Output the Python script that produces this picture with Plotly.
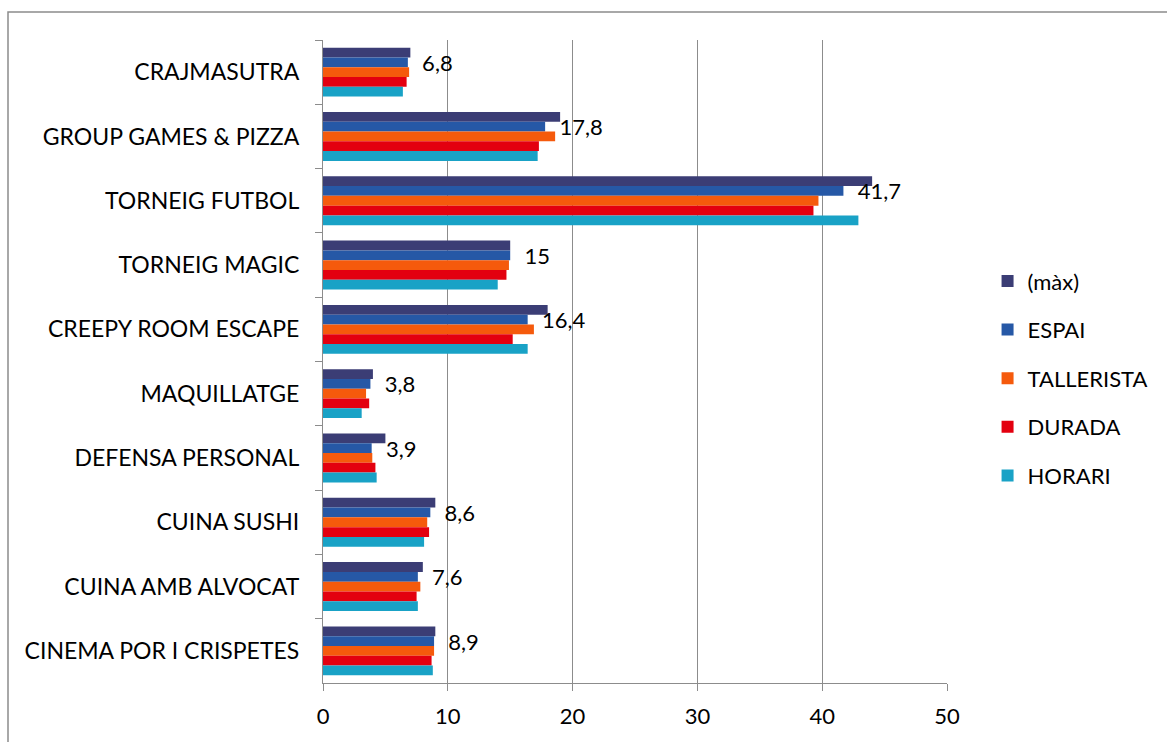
import plotly.graph_objects as go

categories = ["CRAJMASUTRA", "GROUP GAMES & PIZZA", "TORNEIG FUTBOL", "TORNEIG MAGIC",
              "CREEPY ROOM ESCAPE", "MAQUILLATGE", "DEFENSA PERSONAL", "CUINA SUSHI",
              "CUINA AMB ALVOCAT", "CINEMA POR I CRISPETES"]

maxv       = [7, 19, 44, 15, 18, 4, 5, 9, 8, 9]
espai      = [6.8, 17.8, 41.7, 15, 16.4, 3.8, 3.9, 8.6, 7.6, 8.9]
tallerista = [6.9, 18.6, 39.7, 14.9, 16.9, 3.45, 3.95, 8.35, 7.8, 8.9]
durada     = [6.7, 17.3, 39.3, 14.7, 15.2, 3.7, 4.2, 8.5, 7.5, 8.7]
horari     = [6.4, 17.2, 42.9, 14.0, 16.4, 3.1, 4.3, 8.1, 7.6, 8.8]

series = [("(màx)", maxv, "#3B3D75"),
          ("ESPAI", espai, "#2658A6"),
          ("TALLERISTA", tallerista, "#F55A0C"),
          ("DURADA", durada, "#E3000F"),
          ("HORARI", horari, "#19A2C6")]

FONT = "Lato"
fig = go.Figure()
for i, (name, vals, col) in enumerate(series):
    kw = {}
    if name == "ESPAI":
        kw = dict(text=["\u00a0\u00a0" + (str(v) if v != int(v) else str(int(v))).replace(".", ",") for v in vals],
                  textposition="outside", constraintext="none", cliponaxis=False,
                  textfont=dict(family=FONT, size=22, color="#000000"))
    fig.add_trace(go.Bar(y=categories, x=vals, name=name, orientation="h",
                         marker=dict(color=col, line=dict(width=0)),
                         legendgroup=name, **kw))

gray = "#8C8C8C"
fig.update_layout(
    width=1167, height=742,
    margin=dict(l=323, r=220, t=40, b=59),
    paper_bgcolor="white", plot_bgcolor="white",
    barmode="group", bargap=0.24, bargroupgap=0,
    font=dict(family=FONT, size=23, color="#000000"),
    showlegend=True,
    legend=dict(x=1.065, xanchor="left", y=0.474, yanchor="middle",
                font=dict(family=FONT, size=22, color="#000000"),
                tracegroupgap=17, traceorder="grouped", bgcolor="rgba(0,0,0,0)"),
    xaxis=dict(range=[0, 50], dtick=10, showgrid=True, gridcolor=gray, gridwidth=1.3,
               showline=True, linecolor=gray, linewidth=1.3, ticks="outside", ticklen=7,
               tickcolor=gray, tickwidth=1.3, zeroline=False, ticklabelstandoff=6,
               tickfont=dict(family=FONT, size=22)),
    yaxis=dict(autorange="reversed", showgrid=False, showline=True, linecolor=gray,
               linewidth=1.3, ticks="outside", tickson="boundaries", ticklen=7,
               tickcolor=gray, tickwidth=1.3, ticklabelstandoff=18,
               tickfont=dict(family=FONT, size=23)),
    shapes=[dict(type="rect", xref="paper", yref="paper",
                 x0=(8 - 323) / 624, x1=(1200 - 323) / 624,
                 y0=(683 - 780) / 643, y1=(683 - 12) / 643,
                 line=dict(color=gray, width=1.5), fillcolor="rgba(0,0,0,0)", layer="below")],
)

fig.write_html("out.html", config={"displayModeBar": False},
               post_script="document.body.style.margin='0';")
